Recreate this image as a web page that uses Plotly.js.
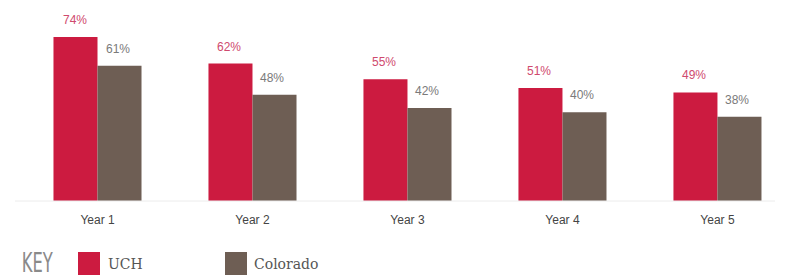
<!DOCTYPE html>
<html>
<head>
<meta charset="utf-8">
<script src="https://cdn.plot.ly/plotly-3.0.1.min.js"></script>
<style>html,body{margin:0;padding:0;background:#fff;}#chart{width:790px;height:278px;}</style>
</head>
<body>
<div id="chart"></div>
<script>
const categories = ["Year 1", "Year 2", "Year 3", "Year 4", "Year 5"];
const seriesNames = ["UCH", "Colorado"];
const uchValues = [74, 62, 55, 51, 49];
const coloradoValues = [61, 48, 42, 40, 38];
const keyLabel = "KEY";

const uchColor = "#cc1b40";
const coColor = "#6e5e54";
const uchText = "#cf4a6e";
const coText = "#7a7a7a";

const traces = [
  {type: "bar", name: seriesNames[0], x: categories, y: uchValues, marker: {color: uchColor, line: {width: 0}}, hoverinfo: "none"},
  {type: "bar", name: seriesNames[1], x: categories, y: coloradoValues, marker: {color: coColor, line: {width: 0}}, hoverinfo: "none"}
];

const annotations = [];
categories.forEach((c, i) => {
  annotations.push({x: c, y: uchValues[i], xref: "x", yref: "y", text: uchValues[i] + "%", showarrow: false,
    xshift: -23, yanchor: "bottom", yshift: 8, font: {family: "Liberation Sans, Arial, sans-serif", size: 12, color: uchText}});
  annotations.push({x: c, y: coloradoValues[i], xref: "x", yref: "y", text: coloradoValues[i] + "%", showarrow: false,
    xshift: 20, yanchor: "bottom", yshift: 8, font: {family: "Liberation Sans, Arial, sans-serif", size: 12, color: coText}});
});

// custom key (legend) below the chart
const W = 770, L = 20, B = 201, H = 191;
const px = v => (v - L) / W;
const py = v => (B - v) / H;
annotations.push({x: px(13), y: py(263), xref: "paper", yref: "paper", xanchor: "left", yanchor: "middle", showarrow: false,
  text: keyLabel, font: {family: "DejaVu Sans Condensed, DejaVu Sans, sans-serif", size: 26, weight: 300, color: "#8a8a8a"}});
annotations.push({x: px(106), y: py(264), xref: "paper", yref: "paper", xanchor: "left", yanchor: "middle", showarrow: false,
  text: seriesNames[0], font: {family: "DejaVu Serif, serif", size: 14, color: "#555"}});
annotations.push({x: px(252), y: py(264), xref: "paper", yref: "paper", xanchor: "left", yanchor: "middle", showarrow: false,
  text: seriesNames[1], font: {family: "DejaVu Serif, serif", size: 14, color: "#555"}});

const shapes = [
  {type: "line", xref: "paper", yref: "paper", x0: px(15), x1: px(775), y0: 0, y1: 0, line: {color: "#ececec", width: 1}},
  {type: "rect", xref: "paper", yref: "paper", x0: px(78), x1: px(100), y0: py(275), y1: py(252), fillcolor: uchColor, line: {width: 0}},
  {type: "rect", xref: "paper", yref: "paper", x0: px(225), x1: px(247), y0: py(275), y1: py(252), fillcolor: coColor, line: {width: 0}}
];

const layout = {
  width: 790, height: 278,
  margin: {l: L, r: 0, t: 10, b: 77},
  paper_bgcolor: "#ffffff", plot_bgcolor: "rgba(0,0,0,0)",
  barmode: "group", bargap: 0.432, bargroupgap: 0,
  showlegend: false,
  xaxis: {type: "category", range: [-0.5, 4.468], showgrid: false, zeroline: false, showline: false,
    ticks: "", ticklabelstandoff: 10, tickfont: {family: "Liberation Sans, Arial, sans-serif", size: 12, color: "#444"}, fixedrange: true},
  yaxis: {range: [0, 86.2], visible: false, showgrid: false, zeroline: false, showticklabels: false, showline: false, fixedrange: true},
  annotations: annotations,
  shapes: shapes
};

Plotly.newPlot("chart", traces, layout, {displayModeBar: false, staticPlot: true}).then(gd => {
  // condense the "KEY" label to match the narrow display face
  gd.querySelectorAll(".annotation-text").forEach(t => {
    if (t.textContent === keyLabel) {
      t.setAttribute("textLength", "31");
      t.setAttribute("lengthAdjust", "spacingAndGlyphs");
    }
  });
});
</script>
</body>
</html>
